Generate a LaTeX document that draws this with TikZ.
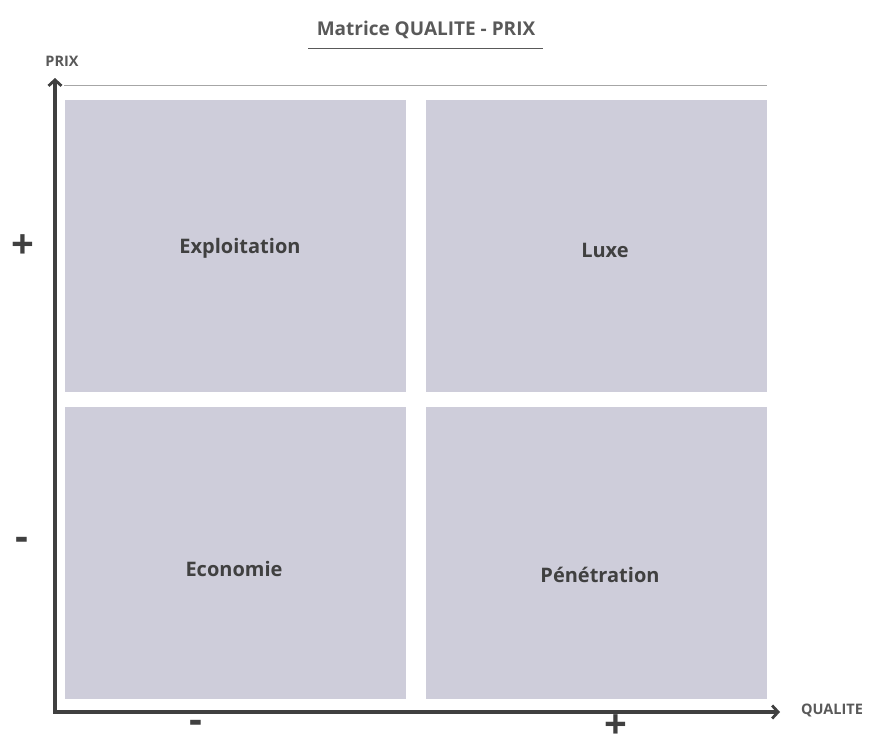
\documentclass[tikz,border=0pt]{standalone}
\usepackage{fontspec}
\setmainfont{Open Sans}
\usetikzlibrary{arrows.meta}
\definecolor{boxfill}{HTML}{CECDDA}
\definecolor{txtdark}{HTML}{404040}
\definecolor{titlegray}{HTML}{595959}
\definecolor{axisc}{HTML}{404040}
\begin{document}
\begin{tikzpicture}[x=1pt,y=-1pt,
  quad/.style={fill=boxfill,draw=none,minimum width=341pt,minimum height=292pt,inner sep=0pt},
  qlab/.style={font=\fontsize{20}{22}\selectfont\bfseries,text=txtdark,inner sep=0pt},
  sign/.style={font=\fontsize{40}{42}\selectfont\bfseries,text=axisc,inner sep=0pt},
  axlab/.style={font=\fontsize{14.5}{16}\selectfont\bfseries,text=titlegray,inner sep=0pt},
  axis/.style={draw=axisc,line width=3.2pt,-{Straight Barb[length=6pt,width=13pt,line width=2.8pt]}}]
\useasboundingbox (0,0) rectangle (882,742);
% title
\node[font=\fontsize{19}{21}\selectfont\bfseries,text=titlegray,inner sep=0pt] (title) at (426,30) {Matrice QUALITE - PRIX};
\coordinate (ulA) at (308,48);
\coordinate (ulB) at (543,48);
\draw[titlegray,line width=0.8pt] (ulA) -- (ulB);
% top thin line
\coordinate (tlA) at (64,85);
\coordinate (tlB) at (767,85);
\draw[gray!70,line width=0.6pt] (tlA) -- (tlB);
% quadrants
\node[quad] (tl) at (235.5,246) {};
\node[quad] (tr) at (596.5,246) {};
\node[quad] (bl) at (235.5,553) {};
\node[quad] (br) at (596.5,553) {};
\node[qlab] (tltext) at (240,248) {Exploitation};
\node[qlab] (trtext) at (605,250) {Luxe};
\node[qlab] (bltext) at (234,569) {Economie};
\node[qlab] (brtext) at (600,575) {Pénétration};
% axes
\coordinate (yend) at (55,78);
\coordinate (xend) at (780,712);
\coordinate (ystart) at (55,713.5);
\coordinate (xstart) at (53.5,712);
\draw[axis] (ystart) -- (yend);
\draw[axis] (xstart) -- (xend);
% axis labels
\node[axlab] (prix) at (62,61) {PRIX};
\node[axlab] (qual) at (832,710) {QUALITE};
% signs
\node[sign] (yplus) at (23,247) {+};
\node[sign] (yminus) at (22,544) {-};
\node[sign] (xminus) at (196,727) {-};
\node[sign] (xplus) at (616,727) {+};
\end{tikzpicture}
\end{document}
